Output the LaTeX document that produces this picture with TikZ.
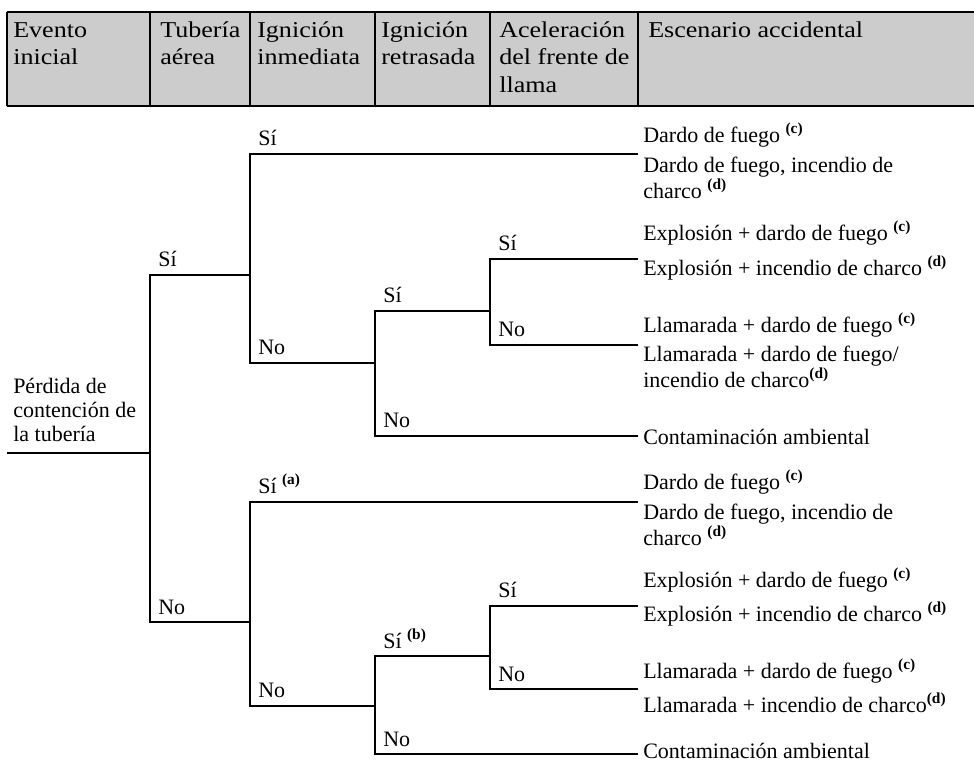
\documentclass[tikz,border=0pt]{standalone}
\usepackage{fontspec}
\setmainfont{Liberation Serif}
\newfontfamily\cabfont[FakeStretch=1.15]{Liberation Serif}
\usetikzlibrary{positioning}
\definecolor{gris}{gray}{0.8}
\newcommand{\nota}[1]{\textsuperscript{\textbf{(#1)}}}

\begin{document}
\begin{tikzpicture}[x=0.75pt,y=-0.75pt]
	\tikzstyle{rama}=[line width=1.5pt]
	\tikzstyle{cabecera}=[anchor=base west, inner sep=0pt, align=left, font=\cabfont\fontsize{17}{20.6}\selectfont]
	\tikzstyle{etiqueta}=[anchor=base west, inner sep=0pt, font=\fontsize{16.5}{16}\selectfont]
	\tikzstyle{escenario}=[anchor=base west, inner sep=0pt, align=left, font=\fontsize{16.5}{16.2}\selectfont]
	\useasboundingbox (0,0) rectangle (974,765);

	% cabecera (base = ultima linea)
	\fill[gris] (7,12) rectangle (974,106);
	\draw[rama] (7,12) -- (974,12);
	\draw[rama] (7,106) -- (974,106);
	\foreach \x in {7,150,250,375,490,638}
		\draw[rama] (\x,12) -- (\x,106);
	\node[cabecera] (evento) at (13,64.5) {Evento\\inicial};
	\node[cabecera] (aerea) at (160,64.5) {Tubería\\aérea};
	\node[cabecera] (inmed) at (257,64.5) {Ignición\\inmediata};
	\node[cabecera] (retras) at (381,64.5) {Ignición\\retrasada};
	\node[cabecera] (acel) at (499,92) {Aceleración\\del frente de\\llama};
	\node[cabecera] (escen) at (648,37) {Escenario accidental};

	% arbol
	\node[escenario, font=\fontsize{16.5}{18}\selectfont] (perdida) at (13,441) {Pérdida de\\contención de\\la tubería};
	\coordinate (r0) at (7,453);
	\coordinate (n1) at (150,453);
	\coordinate (a2) at (250,275);
	\coordinate (a3) at (375,363);
	\coordinate (a4) at (490,311);
	\coordinate (e1) at (638,154);
	\coordinate (e2) at (638,259);
	\coordinate (e3) at (638,345);
	\coordinate (e4) at (638,436);
	\coordinate (b2) at (250,622);
	\coordinate (b3) at (375,706);
	\coordinate (b4) at (490,656);
	\coordinate (f1) at (638,502);
	\coordinate (f2) at (638,606);
	\coordinate (f3) at (638,689);
	\coordinate (f4) at (638,754);

	\draw[rama] (r0) -- (n1);
	\draw[rama] (n1) |- (a2);
	\draw[rama] (n1) |- (b2);
	\draw[rama] (a2) |- (e1);
	\draw[rama] (a2) |- (a3);
	\draw[rama] (a3) |- (a4);
	\draw[rama] (a4) |- (e2);
	\draw[rama] (a4) |- (e3);
	\draw[rama] (a3) |- (e4);
	\draw[rama] (b2) |- (f1);
	\draw[rama] (b2) |- (b3);
	\draw[rama] (b3) |- (b4);
	\draw[rama] (b4) |- (f2);
	\draw[rama] (b4) |- (f3);
	\draw[rama] (b3) |- (f4);

	\node[etiqueta] (si1) at (158,266) {Sí};
	\node[etiqueta] (no1) at (158,614) {No};
	\node[etiqueta] (si2a) at (258,145) {Sí};
	\node[etiqueta] (no2a) at (258,354) {No};
	\node[etiqueta] (si3a) at (383,302) {Sí};
	\node[etiqueta] (no3a) at (383,427) {No};
	\node[etiqueta] (si4a) at (498,250) {Sí};
	\node[etiqueta] (no4a) at (498,336) {No};
	\node[etiqueta] (si2b) at (258,493) {Sí \nota{a}};
	\node[etiqueta] (no2b) at (258,697) {No};
	\node[etiqueta] (si3b) at (383,648) {Sí \nota{b}};
	\node[etiqueta] (no3b) at (383,746) {No};
	\node[etiqueta] (si4b) at (498,597) {Sí};
	\node[etiqueta] (no4b) at (498,681) {No};

	\node[escenario] (esc1) at (643,142) {Dardo de fuego \nota{c}};
	\node[escenario] (esc2) at (643,198) {Dardo de fuego, incendio de\\charco \nota{d}};
	\node[escenario] (esc3) at (643,240) {Explosión + dardo de fuego \nota{c}};
	\node[escenario] (esc4) at (643,275) {Explosión + incendio de charco \nota{d}};
	\node[escenario] (esc5) at (643,332) {Llamarada + dardo de fuego \nota{c}};
	\node[escenario] (esc6) at (643,387) {Llamarada + dardo de fuego/\\incendio de charco\nota{d}};
	\node[escenario] (esc7) at (643,444) {Contaminación ambiental};
	\node[escenario] (esc8) at (643,489) {Dardo de fuego \nota{c}};
	\node[escenario] (esc9) at (643,545) {Dardo de fuego, incendio de\\charco \nota{d}};
	\node[escenario] (esc10) at (643,587) {Explosión + dardo de fuego \nota{c}};
	\node[escenario] (esc11) at (643,621) {Explosión + incendio de charco \nota{d}};
	\node[escenario] (esc12) at (643,678) {Llamarada + dardo de fuego \nota{c}};
	\node[escenario] (esc13) at (643,712) {Llamarada + incendio de charco\nota{d}};
	\node[escenario] (esc14) at (643,758) {Contaminación ambiental};
\end{tikzpicture}
\end{document}
